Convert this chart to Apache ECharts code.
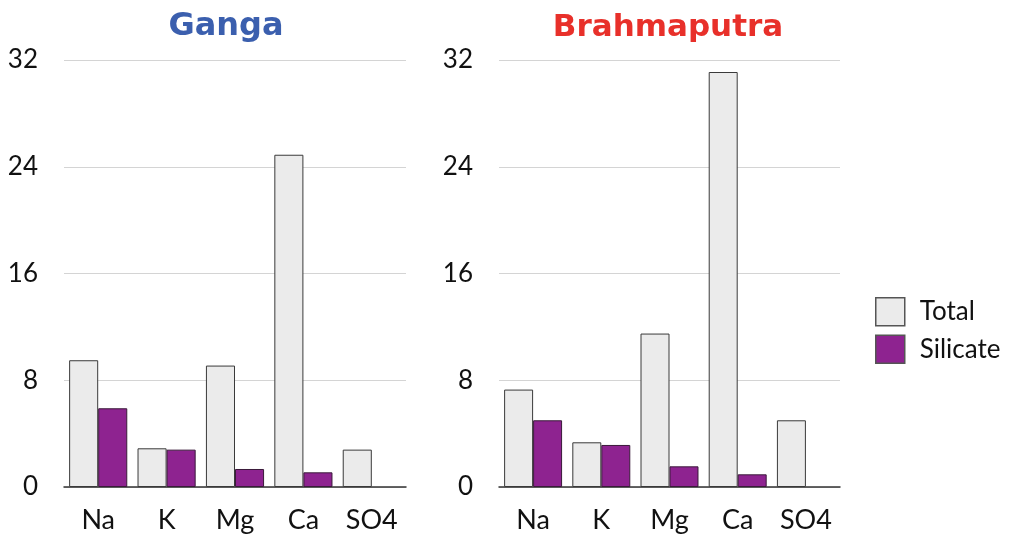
<!DOCTYPE html>
<html>
<head>
<meta charset="utf-8">
<script src="https://cdn.jsdelivr.net/npm/echarts@6/dist/echarts.min.js"></script>
<style>
  html, body { margin: 0; padding: 0; background: #fff; }
  #chart { width: 1011px; height: 539px; }
</style>
</head>
<body>
<div id="chart"></div>
<script>
// ions on the x axis
var ions = ['Na', 'K', 'Mg', 'Ca', 'SO4'];
// Ganga (no silicate SO4 bar)
var gangaTotal = [9.5, 2.9, 9.1, 24.9, 2.8];
var gangaSilicate = [5.9, 2.8, 1.35, 1.1, null];
// Brahmaputra
var brahmaTotal = [7.3, 3.35, 11.5, 31.1, 5.0];
var brahmaSilicate = [5.0, 3.15, 1.55, 0.95, null];
var yTicks = [0, 8, 16, 24, 32];

var labelFont = 'Lato, "Open Sans", sans-serif';
var titleFont = '"DejaVu Sans", sans-serif';
var totalStyle = { color: '#ebebeb', borderColor: '#3a3a3a', borderWidth: 1 };
var silicateStyle = { color: '#8e2390', borderColor: '#3a1a3a', borderWidth: 1 };

function xAxisFor(gridIndex) {
  return {
    type: 'category', gridIndex: gridIndex, data: ions,
    axisLine: { lineStyle: { color: '#333', width: 1.5 } },
    axisTick: { show: false },
    axisLabel: { color: '#111', fontSize: 27, fontFamily: labelFont, margin: 20 }
  };
}
function yAxisFor(gridIndex) {
  return {
    type: 'value', gridIndex: gridIndex, min: yTicks[0], max: yTicks[yTicks.length - 1], interval: 8,
    axisLine: { show: false }, axisTick: { show: false },
    splitLine: { lineStyle: { color: '#d4d4d4', width: 1 } },
    axisLabel: { color: '#111', fontSize: 26, fontFamily: labelFont, margin: 26 }
  };
}
function bar(name, idx, data, style) {
  return {
    name: name, type: 'bar', xAxisIndex: idx, yAxisIndex: idx, data: data,
    barGap: '0%', barCategoryGap: '15%', itemStyle: style
  };
}

var chart = echarts.init(document.getElementById('chart'));
chart.setOption({
  animation: false,
  title: [
    { text: 'Ganga', left: 221, top: 6, textAlign: 'center',
      textStyle: { color: '#3b5fae', fontSize: 32, fontWeight: 'bold', fontFamily: titleFont } },
    { text: 'Brahmaputra', left: 663, top: 7, textAlign: 'center',
      textStyle: { color: '#e8302a', fontSize: 31, fontWeight: 'bold', fontFamily: titleFont } }
  ],
  legend: {
    orient: 'vertical', left: 870, top: 292,
    itemWidth: 29, itemHeight: 28, itemGap: 8,
    icon: 'rect',
    itemStyle: { borderColor: '#555', borderWidth: 1.5 },
    textStyle: { color: '#111', fontSize: 26, fontFamily: labelFont, padding: [0, 0, 0, 10] },
    data: ['Total', 'Silicate']
  },
  grid: [
    { left: 64, top: 60, width: 342, height: 427 },
    { left: 499, top: 60, width: 341, height: 427 }
  ],
  xAxis: [xAxisFor(0), xAxisFor(1)],
  yAxis: [yAxisFor(0), yAxisFor(1)],
  series: [
    bar('Total', 0, gangaTotal, totalStyle),
    bar('Silicate', 0, gangaSilicate, silicateStyle),
    bar('Total', 1, brahmaTotal, totalStyle),
    bar('Silicate', 1, brahmaSilicate, silicateStyle)
  ]
});
</script>
</body>
</html>
